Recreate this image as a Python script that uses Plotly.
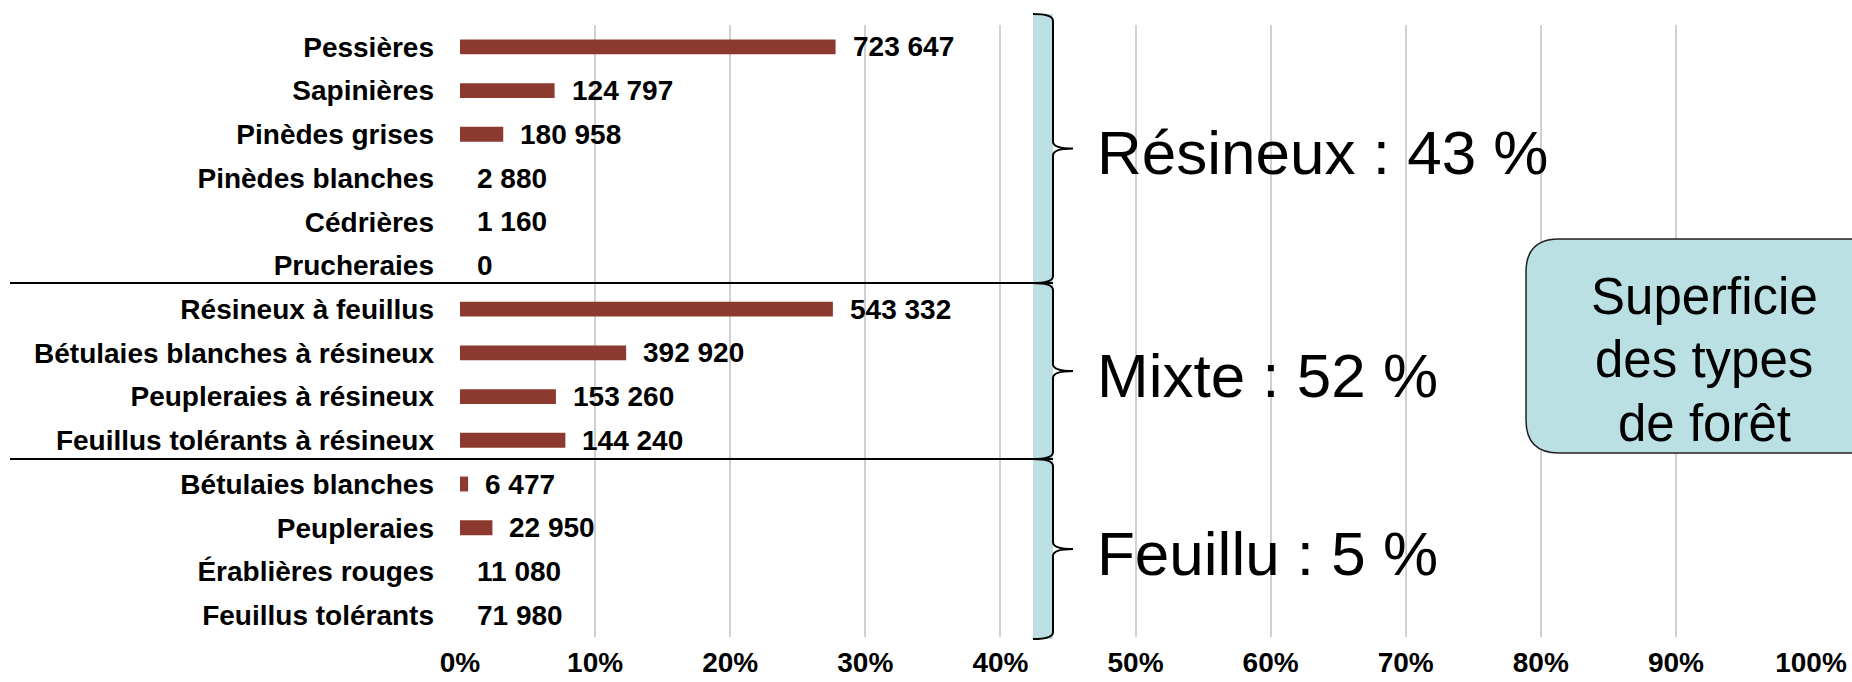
import plotly.graph_objects as go

# ---------------- data ----------------
categories = [
    "Pessières", "Sapinières", "Pinèdes grises", "Pinèdes blanches", "Cédrières", "Prucheraies",
    "Résineux à feuillus", "Bétulaies blanches à résineux", "Peupleraies à résineux",
    "Feuillus tolérants à résineux",
    "Bétulaies blanches", "Peupleraies", "Érablières rouges", "Feuillus tolérants",
]
share_pct = [27.8, 7.0, 3.2, 0, 0, 0, 27.6, 12.3, 7.1, 7.8, 0.6, 2.4, 0, 0]
area_ha = [723647, 124797, 180958, 2880, 1160, 0, 543332, 392920, 153260, 144240,
           6477, 22950, 11080, 71980]
group_labels = ["Résineux : 43 %", "Mixte : 52 %", "Feuillu : 5 %"]
box_lines = ["Superficie", "des types", "de forêt"]
x_tickvals = [0, 10, 20, 30, 40, 50, 60, 70, 80, 90, 100]
x_ticktext = ["0%", "10%", "20%", "30%", "40%", "50%", "60%", "70%", "80%", "90%", "100%"]

# ---------------- layout constants (pixels) ----------------
W, H = 1852, 682
ML, MR, MT, MB = 460, 41, 25, 45
PW, PH = W - ML - MR, H - MT - MB
FONT = "Liberation Sans, Arial, sans-serif"
BAR_COLOR = "#8C3A2F"
BLUE = "#BAE0E4"


def px(x):
    return (x - ML) / PW


def py(y):
    return (H - MB - y) / PH


def fmt(v):
    return f"{v:,}".replace(",", " ")


fig = go.Figure()
fig.add_trace(go.Bar(
    x=share_pct, y=categories, orientation="h",
    marker=dict(color=BAR_COLOR, line=dict(width=0)),
    hoverinfo="skip",
))

annotations = []
for c, v, a in zip(categories, share_pct, area_ha):
    annotations.append(dict(
        x=v, y=c, xref="x", yref="y", text=fmt(a), showarrow=False,
        xanchor="left", yanchor="middle", xshift=15,
        font=dict(family=FONT, size=28, color="black", weight="bold"),
    ))

# group brackets, strip, separators
group_bounds = [(14, 283), (283, 459), (459, 639)]
XL, XB, XT = 1033, 1053, 1073
shapes = [dict(type="rect", xref="paper", yref="paper",
               x0=px(XL), x1=px(XB), y0=py(639), y1=py(14),
               fillcolor=BLUE, line=dict(width=0), layer="above")]


def P(x, y):
    return f"{px(x):.5f},{py(y):.5f}"


for (y0, y1), lab in zip(group_bounds, group_labels):
    ym = (y0 + y1) / 2
    path = (f"M {P(XL, y0)} Q {P(XB, y0)} {P(XB, y0 + 7)} L {P(XB, ym - 7)} "
            f"Q {P(XB, ym)} {P(XT, ym)} Q {P(XB, ym)} {P(XB, ym + 7)} "
            f"L {P(XB, y1 - 7)} Q {P(XB, y1)} {P(XL, y1)}")
    shapes.append(dict(type="path", xref="paper", yref="paper", path=path,
                       line=dict(color="black", width=2), layer="above"))
    annotations.append(dict(
        x=px(1095), y=py(ym + 4), xref="paper", yref="paper", text=lab,
        showarrow=False, xanchor="left", yanchor="middle",
        font=dict(family=FONT, size=62, color="black"),
    ))

for ysep in (283, 459):
    shapes.append(dict(type="line", xref="paper", yref="paper",
                       x0=px(10), x1=px(XB), y0=py(ysep), y1=py(ysep),
                       line=dict(color="black", width=2), layer="above"))

# rounded box
bl, bt, bb, br, r = 1526, 239, 453, 1890, 33
box_path = (f"M {P(bl + r, bt)} L {P(br, bt)} L {P(br, bb)} L {P(bl + r, bb)} "
            f"Q {P(bl, bb)} {P(bl, bb - r)} L {P(bl, bt + r)} Q {P(bl, bt)} {P(bl + r, bt)} Z")
shapes.append(dict(type="path", xref="paper", yref="paper", path=box_path,
                   fillcolor=BLUE, line=dict(color="#222222", width=1.5), layer="above"))
for i, line in enumerate(box_lines):
    annotations.append(dict(
        x=px(1704), y=py(296 + 63.5 * i), xref="paper", yref="paper", text=line,
        showarrow=False, xanchor="center", yanchor="middle", align="center",
        font=dict(family=FONT, size=51, color="black"),
    ))

fig.update_layout(
    width=W, height=H,
    margin=dict(l=ML, r=MR, t=MT, b=MB, autoexpand=False),
    paper_bgcolor="white", plot_bgcolor="white",
    showlegend=False, bargap=0.66,
    font=dict(family=FONT, color="black"),
    shapes=shapes, annotations=annotations,
    xaxis=dict(range=[0, 100], tickvals=x_tickvals, ticktext=x_ticktext,
               showgrid=True, gridcolor="#D0D0D0", gridwidth=1.5,
               zeroline=False, showline=False, ticks="", automargin=False,
               ticklabelstandoff=6,
               tickfont=dict(family=FONT, size=28, color="black", weight="bold")),
    yaxis=dict(autorange="reversed", showgrid=False, zeroline=False, showline=False,
               ticks="", automargin=False, ticklabelstandoff=25,
               tickfont=dict(family=FONT, size=28, color="black", weight="bold")),
)

fig.write_html("out.html", config={"displayModeBar": False},
               post_script="document.body.style.margin='0';")
